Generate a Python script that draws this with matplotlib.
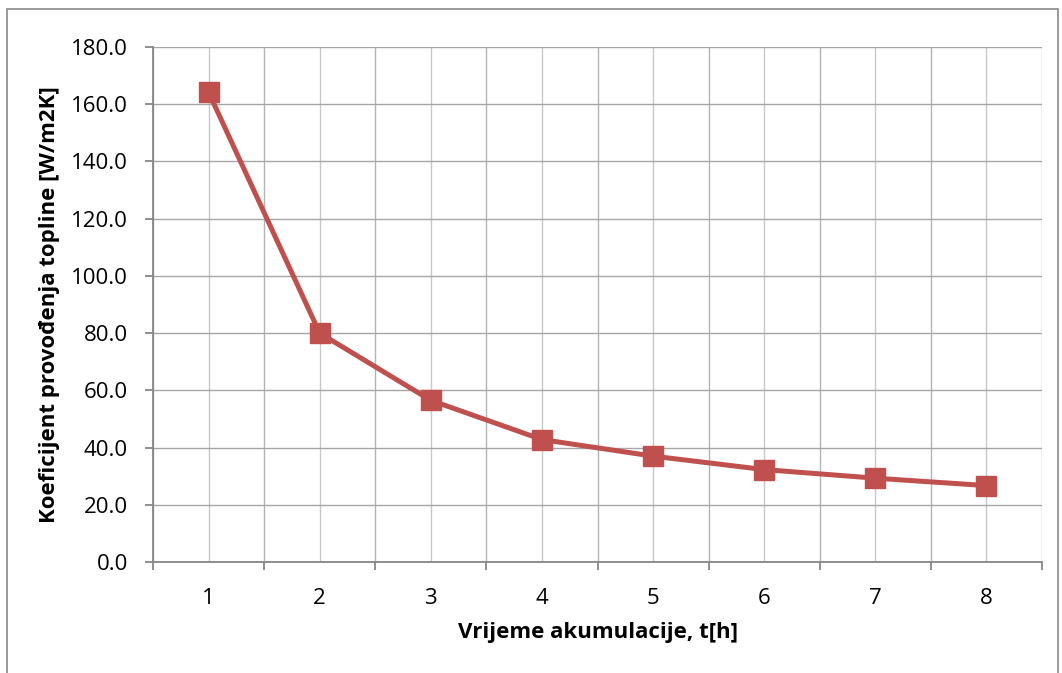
import matplotlib
matplotlib.use("Agg")
import matplotlib.pyplot as plt
from matplotlib.patches import Rectangle
import numpy as np

categories = ["1", "2", "3", "4", "5", "6", "7", "8"]
values = [164.2, 80.0, 56.5, 42.8, 37.0, 32.3, 29.3, 26.7]
y_ticks = [0, 20, 40, 60, 80, 100, 120, 140, 160, 180]
x_label = "Vrijeme akumulacije, t[h]"
y_label = "Koeficijent provođenja topline [W/m2K]"

plt.rcParams['font.family'] = ['Open Sans', 'DejaVu Sans']

W, H = 1062, 673
fig = plt.figure(figsize=(W / 100, H / 100), dpi=100)
fig.patch.set_facecolor("white")
fig.patches.append(Rectangle((7 / W, -0.1), (1058 - 7) / W, 1.1 - 9 / H,
                             transform=fig.transFigure, fill=False,
                             edgecolor="#898989", linewidth=1.2))

ax = fig.add_axes([153 / W, (H - 562) / H, (1042 - 153) / W, (562 - 47) / H])
x = np.arange(len(categories))
ax.plot(x, values, color="#C0504D", linewidth=3.6, marker="s", markersize=14,
        markerfacecolor="#C0504D", markeredgecolor="#C0504D", zorder=3)

ax.set_xlim(-0.5, len(categories) - 0.5)
ax.set_ylim(0, 180)
ax.set_yticks(y_ticks)
ax.set_yticklabels([f"{v:.1f}" for v in y_ticks])
ax.set_xticks(x)
ax.set_xticklabels(categories)
ax.set_xticks(np.arange(-0.5, len(categories)), minor=True)

ax.grid(True, which="major", axis="y", color="#A6A6A6", linewidth=1.0)
ax.grid(True, which="major", axis="x", color="#C8C8C8", linewidth=1.0)
ax.grid(True, which="minor", axis="x", color="#B4B4B4", linewidth=1.0)
ax.set_axisbelow(True)

for s in ["top", "right"]:
    ax.spines[s].set_visible(False)
for s in ["left", "bottom"]:
    ax.spines[s].set_color("#868686")
    ax.spines[s].set_linewidth(1.3)

ax.tick_params(axis="x", which="major", length=0, labelsize=16, pad=19, colors="black")
ax.tick_params(axis="x", which="minor", length=6, width=1.3, color="#868686")
ax.tick_params(axis="y", which="major", length=6, width=1.3, color="#868686",
               labelsize=16, pad=12, labelcolor="black")

ax.set_xlabel(x_label, fontsize=16, fontweight="bold", labelpad=9)
ax.set_ylabel(y_label, fontsize=16, fontweight="bold", labelpad=8)

fig.savefig("out.png", dpi=100)
